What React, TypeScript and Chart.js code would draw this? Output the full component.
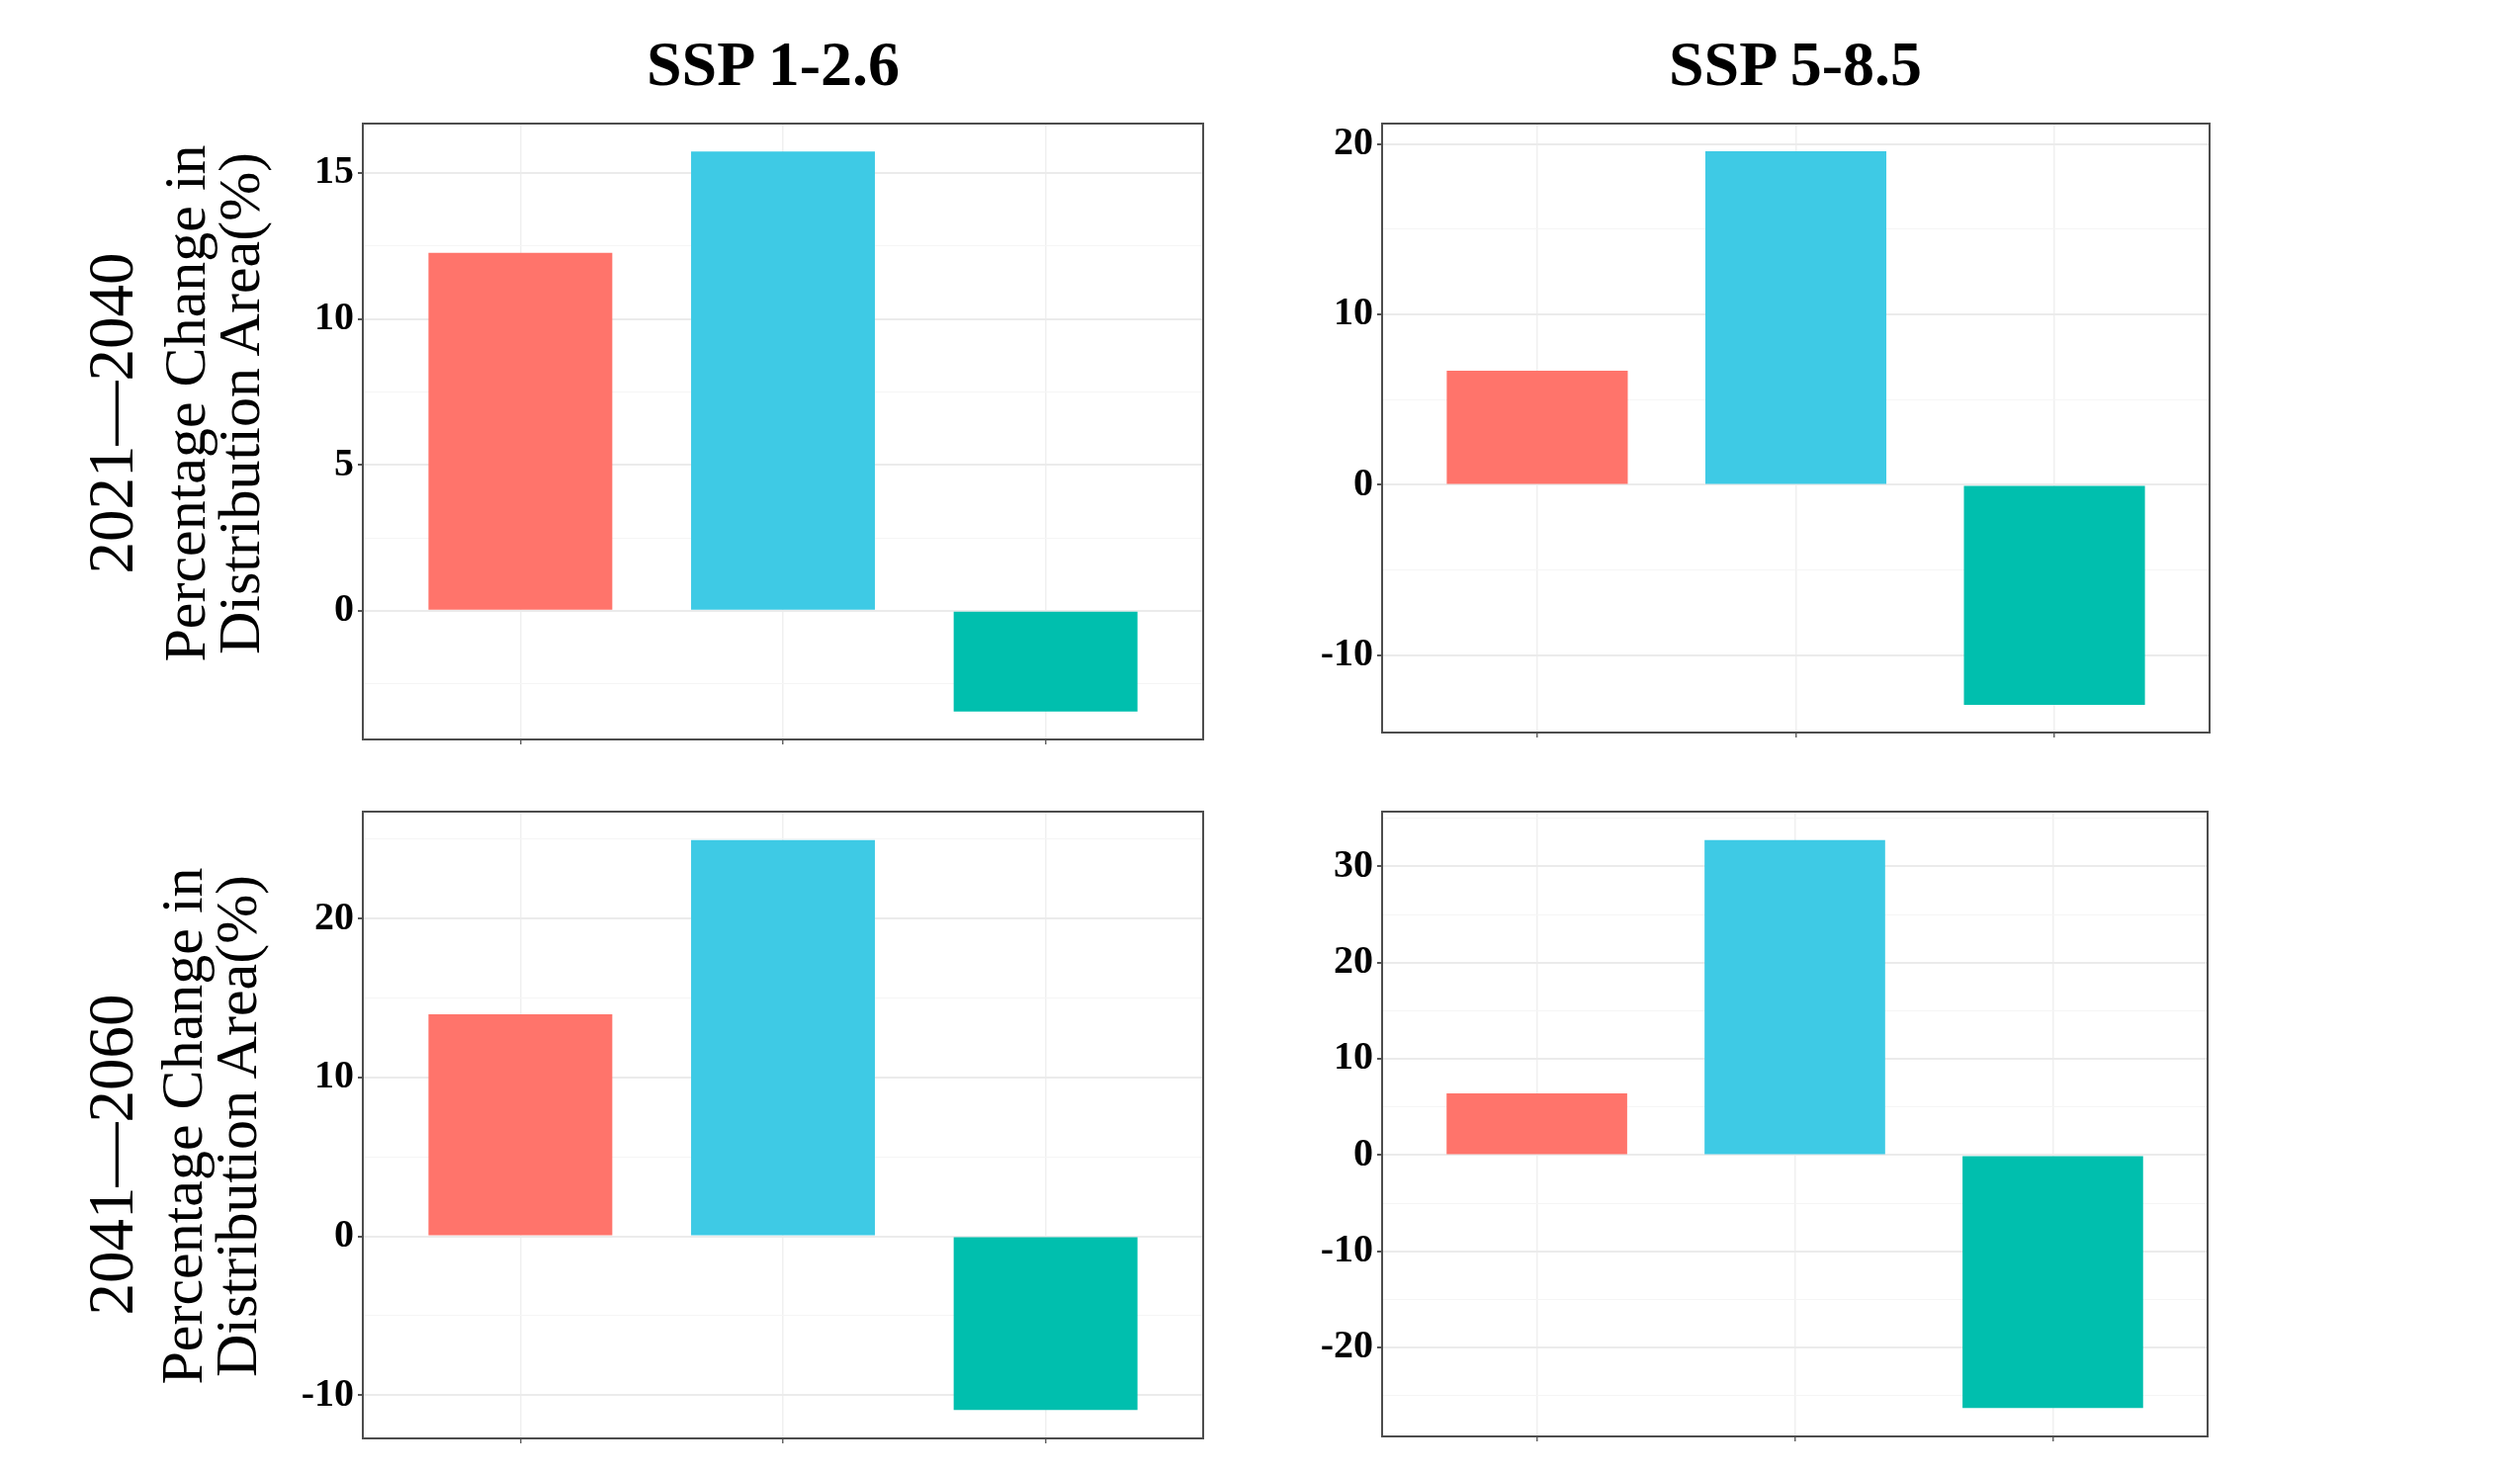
import React, { useEffect, useRef } from 'react';
import { Chart, registerables } from 'chart.js';

Chart.register(...registerables);

// ---- Data ----
const CATEGORIES = ['Category 1', 'Category 2', 'Category 3'];
const CATEGORY_POS = [1, 2, 3];
const BAR_COLORS = ['#FF746B', '#3ECAE5', '#00BFAE'];
const SCENARIOS = ['SSP 1-2.6', 'SSP 5-8.5'];
const PERIODS = ['2021\u20142040', '2041\u20142060'];
const Y_TITLE_LINES = ['Percentage Change in', 'Distribution Area(%)'];

const SSP126_2021_2040 = [12.27, 15.74, -3.45];
const SSP585_2021_2040 = [6.69, 19.57, -12.91];
const SSP126_2041_2060 = [13.98, 24.94, -10.93];
const SSP585_2041_2060 = [6.4, 32.74, -26.29];

const STEP_SSP126_2021 = 5;
const STEP_SSP585_2021 = 10;
const STEP_SSP126_2041 = 10;
const STEP_SSP585_2041 = 10;

const FONT = '"Liberation Serif", "Times New Roman", Times, serif';

// layout constants (pixels)
const YW = 100; // y-axis width
const PT = 40; // top padding
const PR = 12; // right padding
const XH = 30; // x-axis height

type Box = { left: number; top: number; right: number; bottom: number };

const boxBorder = {
  id: 'boxBorder',
  afterDraw(chart: any) {
    const { ctx, chartArea } = chart;
    ctx.save();
    ctx.strokeStyle = '#4D4D4D';
    ctx.lineWidth = 2;
    ctx.strokeRect(chartArea.left, chartArea.top, chartArea.right - chartArea.left, chartArea.bottom - chartArea.top);
    ctx.restore();
  },
};

function Panel({ values, step, box }: { values: number[]; step: number; box: Box }) {
  const ref = useRef<HTMLCanvasElement | null>(null);
  const w = box.right - box.left + YW + PR;
  const h = box.bottom - box.top + PT + XH;

  useEffect(() => {
    if (!ref.current) return;
    const lo = Math.min(0, ...values);
    const hi = Math.max(0, ...values);
    const pad = 0.05 * (hi - lo);
    const yMin = lo - pad;
    const yMax = hi + pad;
    const isMajor = (v: number) => Math.abs(v / step - Math.round(v / step)) < 1e-6;

    const chart = new Chart(ref.current, {
      type: 'bar',
      data: {
        labels: CATEGORIES,
        datasets: [
          {
            label: 'Change',
            data: values.map((v, i) => ({ x: CATEGORY_POS[i], y: v })),
            backgroundColor: BAR_COLORS,
            borderWidth: 0,
            categoryPercentage: 1,
            barPercentage: 0.7,
          } as any,
        ],
      },
      options: {
        animation: false,
        responsive: false,
        devicePixelRatio: 1,
        layout: { padding: { top: PT, right: PR, left: 0, bottom: 0 } },
        plugins: { legend: { display: false }, tooltip: { enabled: false }, title: { display: false } },
        scales: {
          x: {
            type: 'linear',
            min: 0.4,
            max: 3.6,
            offset: false,
            afterBuildTicks: (axis: any) => {
              axis.ticks = CATEGORY_POS.map((v) => ({ value: v }));
            },
            afterFit: (axis: any) => {
              axis.height = XH;
            },
            ticks: { callback: () => '', font: { size: 10 } },
            grid: {
              offset: false,
              color: '#F0F0F0',
              lineWidth: 1.5,
              drawTicks: true,
              tickLength: 5,
              tickColor: '#666666',
            },
            border: { display: false },
          },
          y: {
            type: 'linear',
            min: yMin,
            max: yMax,
            afterBuildTicks: (axis: any) => {
              const half = step / 2;
              const ticks: any[] = [];
              for (let t = Math.ceil(yMin / half) * half; t <= yMax + 1e-9; t += half) {
                ticks.push({ value: Math.round(t * 1000) / 1000 });
              }
              axis.ticks = ticks;
            },
            afterFit: (axis: any) => {
              axis.width = YW;
            },
            ticks: {
              callback: (v: any) => (isMajor(Number(v)) ? String(v) : ''),
              font: { family: FONT, size: 40, weight: 'bold' },
              color: '#000000',
              padding: 4,
              autoSkip: false,
            },
            grid: {
              color: (ctx: any) => (ctx.tick && isMajor(ctx.tick.value) ? '#EBEBEB' : '#F5F5F5'),
              lineWidth: (ctx: any) => (ctx.tick && isMajor(ctx.tick.value) ? 2 : 1),
              drawTicks: true,
              tickLength: 5,
              tickColor: (ctx: any) => (ctx.tick && isMajor(ctx.tick.value) ? '#555555' : 'rgba(0,0,0,0)'),
            },
            border: { display: false },
          },
        },
      } as any,
      plugins: [boxBorder],
    });
    return () => chart.destroy();
  }, [values, step]);

  return (
    <canvas
      ref={ref}
      width={w}
      height={h}
      style={{ position: 'absolute', left: box.left - YW, top: box.top - PT, width: w, height: h }}
    />
  );
}

function ColTitle({ text, cx }: { text: string; cx: number }) {
  return (
    <div
      style={{
        position: 'absolute',
        left: cx - 300,
        top: 33,
        width: 600,
        textAlign: 'center',
        fontFamily: FONT,
        fontWeight: 'bold',
        fontSize: 64,
        lineHeight: '64px',
        color: '#000',
        whiteSpace: 'nowrap',
      }}
    >
      {text}
    </div>
  );
}

function Rotated({ cx, cy, children, style }: { cx: number; cy: number; children: any; style: any }) {
  return (
    <div
      style={{
        position: 'absolute',
        left: cx,
        top: cy,
        transform: 'translate(-50%, -50%) rotate(-90deg)',
        whiteSpace: 'nowrap',
        textAlign: 'center',
        fontFamily: FONT,
        color: '#000',
        ...style,
      }}
    >
      {children}
    </div>
  );
}

export default function App() {
  const TL: Box = { left: 367, top: 125, right: 1217, bottom: 748 };
  const TR: Box = { left: 1398, top: 125, right: 2235, bottom: 741 };
  const BL: Box = { left: 367, top: 821, right: 1217, bottom: 1455 };
  const BR: Box = { left: 1398, top: 821, right: 2233, bottom: 1453 };

  return (
    <div
      style={{
        position: 'absolute',
        left: 0,
        top: 0,
        width: 2549,
        height: 1490,
        background: '#ffffff',
        overflow: 'hidden',
      }}
    >
      <ColTitle text={SCENARIOS[0]} cx={782} />
      <ColTitle text={SCENARIOS[1]} cx={1816} />

      <Rotated cx={112} cy={418} style={{ fontSize: 65, lineHeight: '65px' }}>
        {PERIODS[0]}
      </Rotated>
      <Rotated cx={112} cy={1168} style={{ fontSize: 65, lineHeight: '65px' }}>
        {PERIODS[1]}
      </Rotated>

      <Rotated cx={215} cy={408} style={{ fontSize: 60, lineHeight: '55px' }}>
        {Y_TITLE_LINES[0]}
        <br />
        {Y_TITLE_LINES[1]}
      </Rotated>
      <Rotated cx={212} cy={1139} style={{ fontSize: 60, lineHeight: '55px' }}>
        {Y_TITLE_LINES[0]}
        <br />
        {Y_TITLE_LINES[1]}
      </Rotated>

      <Panel values={SSP126_2021_2040} step={STEP_SSP126_2021} box={TL} />
      <Panel values={SSP585_2021_2040} step={STEP_SSP585_2021} box={TR} />
      <Panel values={SSP126_2041_2060} step={STEP_SSP126_2041} box={BL} />
      <Panel values={SSP585_2041_2060} step={STEP_SSP585_2041} box={BR} />
    </div>
  );
}
